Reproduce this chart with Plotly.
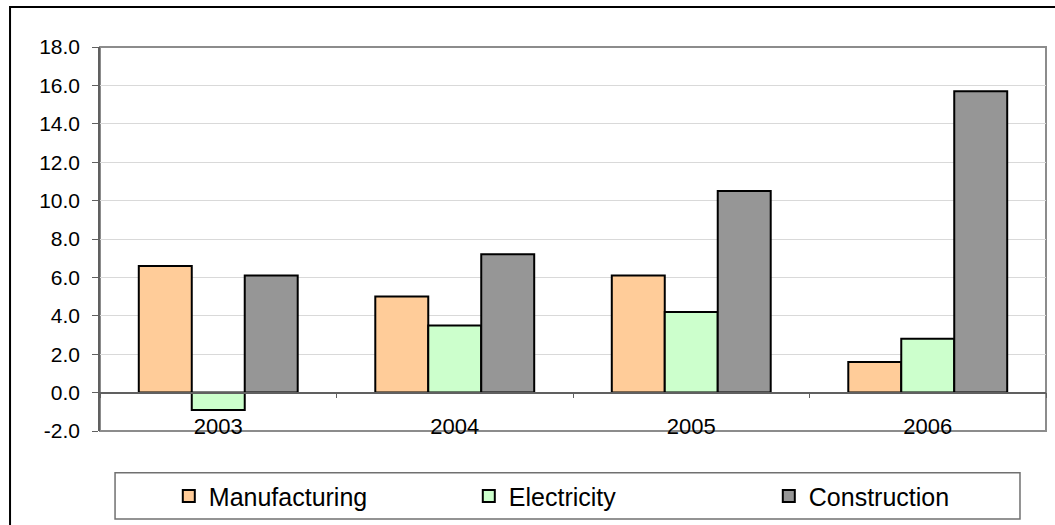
import plotly.graph_objects as go

years = ["2003", "2004", "2005", "2006"]
manufacturing = [6.6, 5.0, 6.1, 1.6]
electricity = [-0.9, 3.5, 4.2, 2.8]
construction = [6.1, 7.2, 10.5, 15.7]
y_ticks = [-2, 0, 2, 4, 6, 8, 10, 12, 14, 16, 18]
y_tick_labels = ["%.1f" % v for v in y_ticks]

FONT = "Liberation Sans, Arial, sans-serif"

fig = go.Figure()
for name, vals, color in [("Manufacturing", manufacturing, "#FFCC99"),
                          ("Electricity", electricity, "#CCFFCC"),
                          ("Construction", construction, "#969696")]:
    fig.add_trace(go.Bar(x=years, y=vals, name=name,
                         marker=dict(color=color, line=dict(color="black", width=2))))

fig.update_layout(
    width=1055, height=525,
    margin=dict(l=100, r=9, t=47, b=94, autoexpand=False),
    paper_bgcolor="white", plot_bgcolor="white",
    barmode="group", bargap=0.328, bargroupgap=0,
    font=dict(family=FONT, color="black", size=21),
    showlegend=True,
    legend=dict(orientation="h", xref="container", yref="container",
                x=0.160, xanchor="left", y=0.055, yanchor="middle",
                font=dict(size=25, family=FONT), entrywidth=255, entrywidthmode="pixels",
                bgcolor="rgba(0,0,0,0)", traceorder="normal"),
    xaxis=dict(anchor="free", position=0.1, showline=True, linecolor="#606060", linewidth=1.5,
               ticks="outside", tickson="boundaries", ticklen=5, tickcolor="#606060",
               showgrid=False, tickfont=dict(size=22), ticklabelstandoff=14),
    yaxis=dict(range=[-2, 18], tickvals=y_ticks, ticktext=y_tick_labels, showgrid=True,
               gridcolor="#d9d9d9", gridwidth=1, zeroline=False, showline=True,
               linecolor="#606060", linewidth=1.5, ticks="outside", ticklen=6,
               tickcolor="#606060", tickfont=dict(size=21), ticklabelstandoff=8),
    shapes=[
        dict(type="rect", xref="paper", yref="paper", x0=0, x1=1, y0=0, y1=1,
             line=dict(color="#8c8c8c", width=2), layer="below"),
        dict(type="rect", xref="paper", yref="paper", x0=0.0159, x1=0.9725,
             y0=-0.229, y1=-0.109, line=dict(color="#707070", width=1.5)),
        dict(type="rect", xref="paper", yref="paper", x0=-0.0951, x1=1.03,
             y0=-0.27, y1=1.104, line=dict(color="black", width=2)),
    ],
)

fig.write_html("out.html")
